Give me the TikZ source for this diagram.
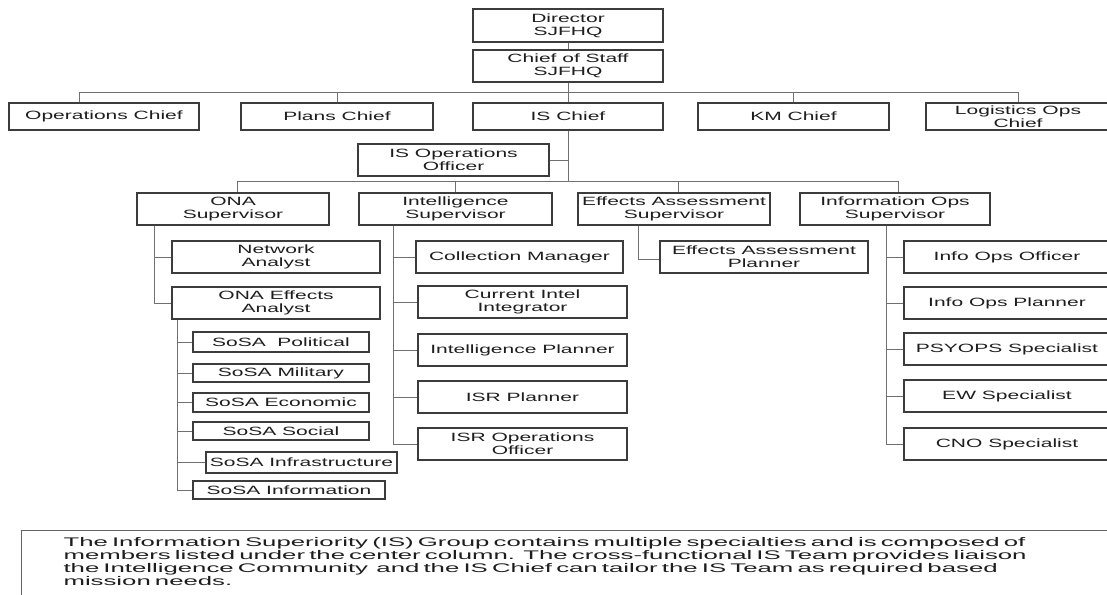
\documentclass[tikz,border=0pt]{standalone}
\usepackage{fontspec}
\setmainfont{Liberation Sans}
\newfontfamily\boxfont[FakeStretch=1.75]{Liberation Sans}
\newfontfamily\notefont[FakeStretch=2.06]{Liberation Sans}
\definecolor{boxc}{HTML}{3C3C3C}
\definecolor{linec}{HTML}{707070}
\definecolor{txt}{HTML}{1E1E1E}
\tikzset{
  orgbox/.style={draw=boxc, line width=1.1pt, fill=white, inner sep=0pt,
    align=center, text=txt, font=\boxfont\fontsize{12}{13}\selectfont},
  link/.style={draw=linec, line width=1pt},
  notebox/.style={draw=boxc!80, line width=1.1pt, fill=white, inner xsep=42pt,
    inner ysep=7pt, text width=1100pt, align=left, text=txt,
    font=\notefont\fontsize{12.5}{13}\selectfont},
}
% \orgnode{name}{x1}{y1}{x2}{y2}{label}: box given by its corners
\newcommand\orgnode[6]{%
  \pgfmathsetmacro\orgW{#4-#2}\pgfmathsetmacro\orgH{#5-#3}%
  \pgfmathsetmacro\orgX{(#2+#4)/2}\pgfmathsetmacro\orgY{(#3+#5)/2}%
  \node[orgbox, minimum width=\orgW pt, minimum height=\orgH pt] (#1) at (\orgX,\orgY) {#6};}
\begin{document}
\begin{tikzpicture}[x=1pt, y=-1pt]
\useasboundingbox (0,0) rectangle (1107,594);
\clip (0,0) rectangle (1107,594);

% command level
\orgnode{dir}{473}{9}{663}{42}{Director\\SJFHQ}
\orgnode{cos}{473}{50}{663}{82}{Chief of Staff\\SJFHQ}

% chiefs
\orgnode{opschief}{9}{103}{199}{130}{Operations Chief}
\orgnode{planschief}{241}{103}{433}{130}{Plans Chief}
\orgnode{ischief}{473}{103}{663}{130}{IS Chief}
\orgnode{kmchief}{698}{103}{889}{130}{KM Chief}
\orgnode{logchief}{926}{103}{1110}{130}{Logistics Ops\\Chief}

\orgnode{isops}{358}{144}{549}{176}{IS Operations\\Officer}

% supervisors
\orgnode{onasup}{137}{193}{329}{225}{ONA\\Supervisor}
\orgnode{intsup}{359}{193}{552}{225}{Intelligence\\Supervisor}
\orgnode{effsup}{578}{193}{770}{225}{Effects Assessment\\Supervisor}
\orgnode{infsup}{800}{193}{990}{225}{Information Ops\\Supervisor}

% ONA branch
\orgnode{netan}{172}{241}{380}{273}{Network\\Analyst}
\orgnode{onaeff}{172}{287}{380}{319}{ONA Effects\\Analyst}
\orgnode{sosapol}{193}{332}{369}{352}{SoSA\ \ Political}
\orgnode{sosamil}{193}{364}{369}{382}{SoSA Military}
\orgnode{sosaeco}{193}{393}{369}{412}{SoSA Economic}
\orgnode{sosasoc}{193}{422}{369}{440}{SoSA Social}
\orgnode{sosainfra}{206}{452}{397}{473}{SoSA Infrastructure}
\orgnode{sosainfo}{193}{481}{385}{499}{SoSA Information}

% intelligence branch
\orgnode{colmgr}{416}{241}{623}{273}{Collection Manager}
\orgnode{curint}{418}{286}{627}{318}{Current Intel\\Integrator}
\orgnode{intplan}{418}{334}{627}{366}{Intelligence Planner}
\orgnode{isrplan}{418}{381}{627}{413}{ISR Planner}
\orgnode{isrops}{418}{428}{627}{460}{ISR Operations\\Officer}

% effects branch
\orgnode{effplan}{660}{241}{868}{273}{Effects Assessment\\Planner}

% information ops branch
\orgnode{ioofficer}{904}{241}{1110}{273}{Info Ops Officer}
\orgnode{ioplanner}{904}{287}{1110}{319}{Info Ops Planner}
\orgnode{psyops}{904}{333}{1110}{365}{PSYOPS Specialist}
\orgnode{ewspec}{904}{380}{1110}{412}{EW Specialist}
\orgnode{cnospec}{904}{428}{1110}{460}{CNO Specialist}

% trunk lines of each column
\coordinate (bus2) at (0,182);
\coordinate (onax) at (154,0);
\coordinate (sosax) at (177,0);
\coordinate (intx) at (393,0);
\coordinate (effx) at (638,0);
\coordinate (infx) at (886,0);

% top levels
\draw[link] (dir.south) -- (cos.north);
\draw[link] (cos.south) -- (ischief.north);
\draw[link] ([xshift=-25pt]opschief.north) -- ++(0,-10) -| (logchief.north);
\draw[link] (planschief.north) -- ++(0,-10);
\draw[link] (kmchief.north) -- ++(0,-10);
\draw[link] (ischief.south) -- (ischief.south |- bus2);
\draw[link] (isops.east) -- (isops.east -| ischief.south);
\draw[link] ([xshift=4pt]onasup.north) -- ++(0,-11) -| ([xshift=3pt]infsup.north);
\draw[link] (intsup.north) -- ++(0,-11);
\draw[link] ([xshift=4pt]effsup.north) -- ++(0,-11);

% ONA
\draw[link] (onasup.south -| onax) |- (onaeff.west);
\draw[link] (netan.west) -- (netan.west -| onax);
\draw[link] (onaeff.south -| sosax) |- (sosainfo.west);
\foreach \n in {sosapol,sosamil,sosaeco,sosasoc,sosainfra}
  \draw[link] (\n.west) -- (\n.west -| sosax);

% intelligence
\draw[link] (intsup.south -| intx) |- (isrops.west);
\foreach \n in {colmgr,curint,intplan,isrplan}
  \draw[link] (\n.west) -- (\n.west -| intx);

% effects
\draw[link] (effsup.south -| effx) |- ([yshift=-2pt]effplan.west);

% information ops
\draw[link] (infsup.south -| infx) |- (cnospec.west);
\foreach \n in {ioofficer,ioplanner,psyops,ewspec}
  \draw[link] (\n.west) -- (\n.west -| infx);

% explanatory note, running past the lower and right edges
\node[notebox, anchor=north west] (note) at (21,530)
  {The Information Superiority (IS) Group contains multiple specialties and is composed of\\
   members listed under the center column.\ \ The cross-functional IS Team provides liaison\\
   the Intelligence Community\ \ and the IS Chief can tailor the IS Team as required based\\
   mission needs.\rule[-30pt]{0pt}{30pt}};
\end{tikzpicture}
\end{document}
